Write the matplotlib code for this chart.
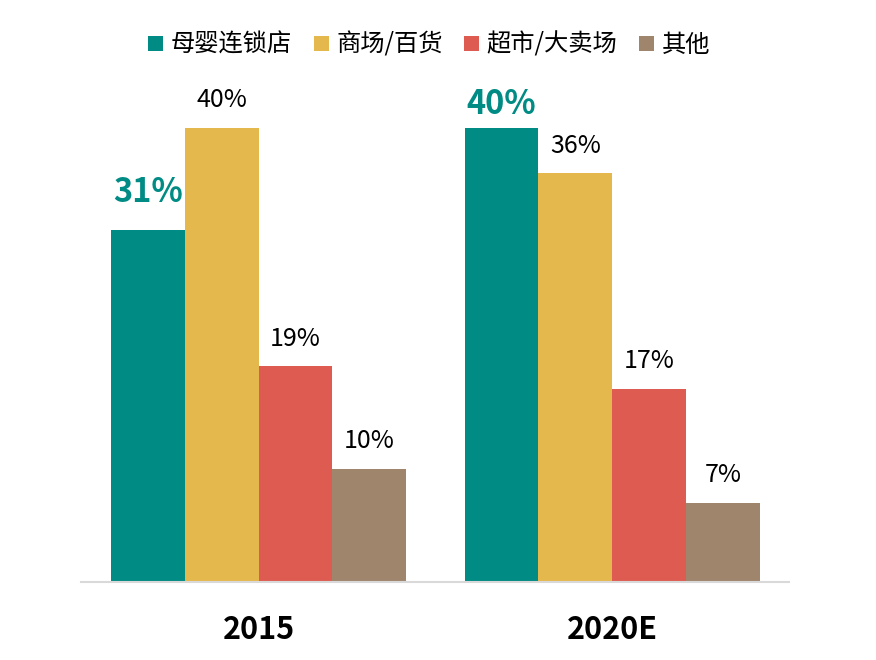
import matplotlib
matplotlib.use("Agg")
import matplotlib.pyplot as plt
from matplotlib.patches import Patch
import numpy as np

plt.rcParams['font.family'] = ['Noto Sans CJK SC', 'DejaVu Sans']

years = ["2015", "2020E"]
channels = ["母婴连锁店", "商场/百货", "超市/大卖场", "其他"]
shares = [
    [31, 40],   # 母婴连锁店
    [40, 36],   # 商场/百货
    [19, 17],   # 超市/大卖场
    [10, 7],    # 其他
]
colors = ["#008B84", "#E5B84E", "#DE5B52", "#A0856D"]

fig = plt.figure(figsize=(8.76, 6.6), dpi=100)
W, H = 876, 660
ax = fig.add_axes([81 / W, (H - 582) / H, (789 - 81) / W, (582 - 71.25) / H])

x = np.arange(len(years))
width = 0.2086
offsets = (np.arange(len(channels)) - 1.5) * width

for i, name in enumerate(channels):
    bars = ax.bar(x + offsets[i], shares[i], width, color=colors[i], label=name)
    for j, b in enumerate(bars):
        val = shares[i][j]
        cx = b.get_x() + b.get_width() / 2
        # highlight the baby-store share, kept inside the plot top
        if i == 0:
            ax.text(cx, min(val + 3.3, 42.1), f"{val}%", ha="center", va="center",
                    fontsize=23.5, fontweight="bold", color=colors[0])
        else:
            ax.text(cx, val + 2.45, f"{val}%", ha="center", va="center",
                    fontsize=18, color="black")

ax.set_xlim(-0.502, 1.5)
ax.set_ylim(0, 45)
ax.set_xticks(x)
ax.set_xticklabels(years, fontsize=22, fontweight="bold")
ax.tick_params(axis="x", length=0, pad=23)
ax.set_yticks([])
for s in ["top", "right", "left"]:
    ax.spines[s].set_visible(False)
ax.spines["bottom"].set_color("#D9D9D9")
ax.spines["bottom"].set_linewidth(1.5)

handles = [Patch(facecolor=c, edgecolor="none") for c in colors]
fig.legend(handles, channels, loc="center", bbox_to_anchor=(0.49, (H - 45) / H),
           ncol=4, frameon=False, fontsize=17.5, handlelength=0.62, handleheight=0.62,
           handletextpad=0.3, columnspacing=0.9)

fig.savefig("out.png", dpi=100)
